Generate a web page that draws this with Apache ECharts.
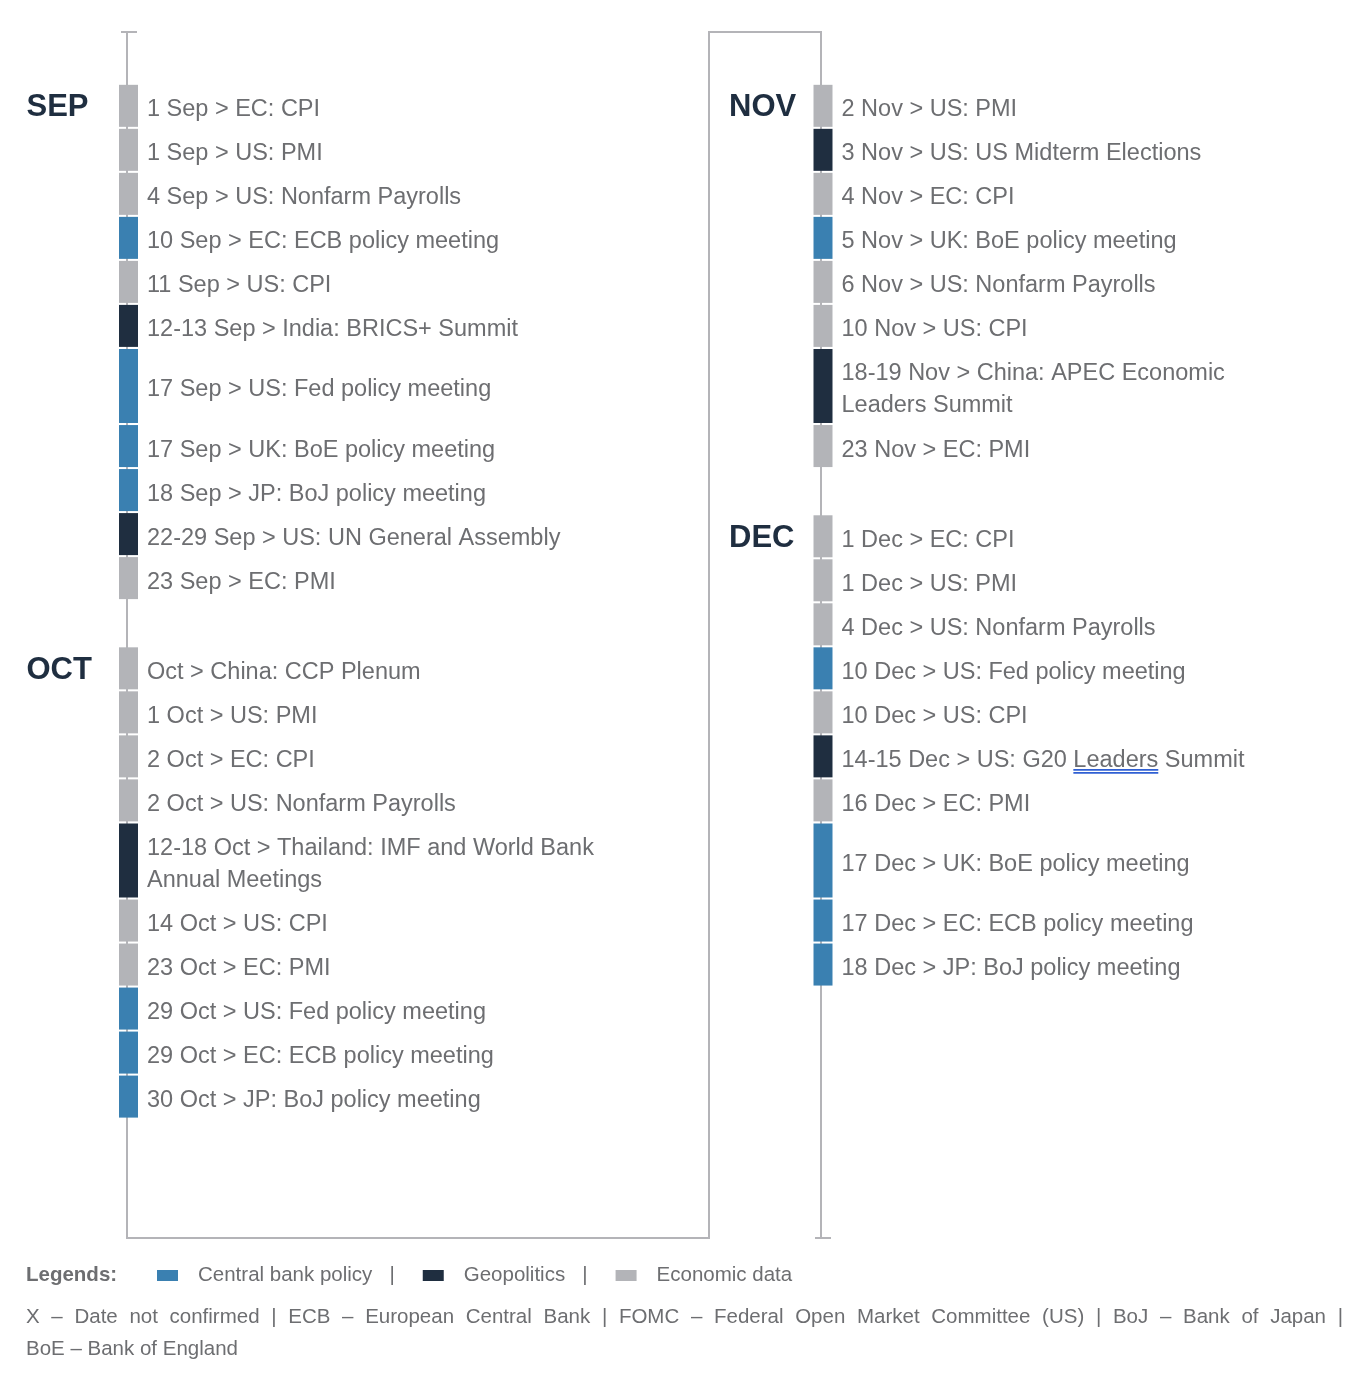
<!DOCTYPE html>
<html>
<head>
<meta charset="utf-8">
<script src="https://cdn.jsdelivr.net/npm/echarts@6/dist/echarts.min.js"></script>
<style>
  html, body { margin: 0; padding: 0; background: #fff; }
  #chart { width: 1364px; height: 1388px; }
</style>
</head>
<body>
<div id="chart"></div>
<script>
// ---------- data ----------
const months = ['SEP', 'OCT', 'NOV', 'DEC']
const monthColumn = [0, 0, 1, 1]   // 0 = left column, 1 = right column

const sepEvents = [
  '1 Sep > EC: CPI', '1 Sep > US: PMI', '4 Sep > US: Nonfarm Payrolls',
  '10 Sep > EC: ECB policy meeting', '11 Sep > US: CPI', '12-13 Sep > India: BRICS+ Summit',
  '17 Sep > US: Fed policy meeting', '17 Sep > UK: BoE policy meeting',
  '18 Sep > JP: BoJ policy meeting', '22-29 Sep > US: UN General Assembly', '23 Sep > EC: PMI'
]
const sepTypes = ['eco', 'eco', 'eco', 'cb', 'eco', 'geo', 'cb', 'cb', 'cb', 'geo', 'eco']

const octEvents = [
  'Oct > China: CCP Plenum', '1 Oct > US: PMI', '2 Oct > EC: CPI', '2 Oct > US: Nonfarm Payrolls',
  '12-18 Oct > Thailand: IMF and World Bank\nAnnual Meetings', '14 Oct > US: CPI', '23 Oct > EC: PMI',
  '29 Oct > US: Fed policy meeting', '29 Oct > EC: ECB policy meeting', '30 Oct > JP: BoJ policy meeting'
]
const octTypes = ['eco', 'eco', 'eco', 'eco', 'geo', 'eco', 'eco', 'cb', 'cb', 'cb']

const novEvents = [
  '2 Nov > US: PMI', '3 Nov > US: US Midterm Elections', '4 Nov > EC: CPI',
  '5 Nov > UK: BoE policy meeting', '6 Nov > US: Nonfarm Payrolls', '10 Nov > US: CPI',
  '18-19 Nov > China: APEC Economic\nLeaders Summit', '23 Nov > EC: PMI'
]
const novTypes = ['eco', 'geo', 'eco', 'cb', 'eco', 'eco', 'geo', 'eco']

const decEvents = [
  '1 Dec > EC: CPI', '1 Dec > US: PMI', '4 Dec > US: Nonfarm Payrolls',
  '10 Dec > US: Fed policy meeting', '10 Dec > US: CPI', '14-15 Dec > US: G20 Leaders Summit',
  '16 Dec > EC: PMI', '17 Dec > UK: BoE policy meeting', '17 Dec > EC: ECB policy meeting',
  '18 Dec > JP: BoJ policy meeting'
]
const decTypes = ['eco', 'eco', 'eco', 'cb', 'eco', 'geo', 'eco', 'cb', 'cb', 'cb']

const legendNames = ['Central bank policy', 'Geopolitics', 'Economic data']
const legendTypes = ['cb', 'geo', 'eco']
const notesLine1 = 'X – Date not confirmed | ECB – European Central Bank | FOMC – Federal Open Market Committee (US) | BoJ – Bank of Japan |'
const notesLine2 = 'BoE – Bank of England'

// rows drawn taller than one slot
const tallRows = [
  '17 Sep > US: Fed policy meeting',
  '12-18 Oct > Thailand: IMF and World Bank\nAnnual Meetings',
  '18-19 Nov > China: APEC Economic\nLeaders Summit',
  '17 Dec > UK: BoE policy meeting'
]

// ---------- styles / layout ----------
const typeColor = { cb: '#3a80b1', geo: '#1f2e40', eco: '#b3b4b8' }
const FONT = '"Liberation Sans", Arial, Helvetica, sans-serif'
const textColor = '#6d6e71'
const lineColor = '#b4b4b8'
const TALL = 1.73
const GAP = 1.05
const BAR_W = 19
const monthOffset = [-102, -94]
const BOX_OFFSET = 112

// build row list from the month arrays
const monthEvents = [sepEvents, octEvents, novEvents, decEvents]
const monthTypes = [sepTypes, octTypes, novTypes, decTypes]
const rows = []
const monthRows = []
const cursor = [0, 0]
months.forEach((m, i) => {
  const col = monthColumn[i]
  if (cursor[col] > 0) cursor[col] += GAP
  monthRows.push({ value: [col, cursor[col]], name: m })
  monthEvents[i].forEach((text, j) => {
    const span = tallRows.includes(text) ? TALL : 1
    rows.push({ value: [col, cursor[col], cursor[col] + span], text, type: monthTypes[i][j] })
    cursor[col] += span
  })
})

const measureCtx = document.createElement('canvas').getContext('2d')
function textWidth(s, font) {
  measureCtx.font = font
  return measureCtx.measureText(s).width
}

const chart = echarts.init(document.getElementById('chart'), null, { renderer: 'canvas' })

function renderEvent(params, api) {
  const r = rows[params.dataIndex]
  const p0 = api.coord([api.value(0), api.value(1)])
  const p1 = api.coord([api.value(0), api.value(2)])
  const h = p1[1] - p0[1] - 2
  const tx = p0[0] + BAR_W / 2 + 9
  const ty = p0[1] + h / 2 + 4
  const font = '23.5px ' + FONT
  const children = [
    { type: 'rect', shape: { x: p0[0] - BAR_W / 2, y: p0[1], width: BAR_W, height: h }, style: { fill: typeColor[r.type] } },
    { type: 'text', x: tx, y: ty, style: { text: r.text, font, fill: textColor, align: 'left', verticalAlign: 'middle', lineHeight: 32 } }
  ]
  // spell-check style double underline seen under "Leaders"
  if (r.text.indexOf('G20 Leaders') >= 0) {
    const pre = r.text.slice(0, r.text.indexOf('Leaders'))
    const x0 = tx + textWidth(pre, font)
    const x1 = x0 + textWidth('Leaders', font)
    ;[9.5, 12.5].forEach(dy => children.push({
      type: 'line', shape: { x1: x0, y1: ty + dy, x2: x1, y2: ty + dy }, style: { stroke: '#2f5fd3', lineWidth: 1.6 }
    }))
  }
  return { type: 'group', children }
}

function renderMonth(params, api) {
  const m = monthRows[params.dataIndex]
  const p = api.coord([api.value(0), api.value(1) + 0.5])
  return {
    type: 'text', x: p[0] + monthOffset[m.value[0]], y: p[1] + 1,
    style: { text: m.name, font: 'bold 31px ' + FONT, fill: '#1f2e40', align: 'left', verticalAlign: 'middle' }
  }
}

function renderConnector(params, api) {
  const top = api.coord([0, -1.2])[1]
  const bottom = api.coord([0, 26.2])[1]
  const lx = api.coord([0, 0])[0] - 1.5
  const rx = api.coord([1, 0])[0] - 2
  const mx = rx - BOX_OFFSET
  const style = { stroke: lineColor, lineWidth: 2, fill: null }
  return {
    type: 'group', children: [
      { type: 'polyline', shape: { points: [[lx, top], [lx, bottom], [mx, bottom], [mx, top], [rx, top], [rx, bottom]] }, style },
      { type: 'line', shape: { x1: lx - 6, y1: top, x2: lx + 10, y2: top }, style },
      { type: 'line', shape: { x1: rx - 6, y1: bottom, x2: rx + 10, y2: bottom }, style }
    ]
  }
}

// justified first notes line, like the source text box
function notesGraphic() {
  const font = '20.5px ' + FONT
  const words = notesLine1.split(' ')
  const left = 26, right = 1343
  const total = words.reduce((s, w) => s + textWidth(w, font), 0)
  const space = (right - left - total) / (words.length - 1)
  const out = []
  let x = left
  words.forEach(w => {
    out.push({ type: 'text', x, y: 1317, style: { text: w, font, fill: textColor, verticalAlign: 'middle' } })
    x += textWidth(w, font) + space
  })
  out.push({ type: 'text', x: left, y: 1349, style: { text: notesLine2, font, fill: textColor, verticalAlign: 'middle' } })
  out.push({ type: 'text', x: left, y: 1275, style: { text: 'Legends:', font: 'bold 20.5px ' + FONT, fill: textColor, verticalAlign: 'middle' } })
  return out
}

const legendSeries = legendNames.map((name, i) => ({
  name, type: 'bar', data: [], itemStyle: { color: typeColor[legendTypes[i]] }
}))

chart.setOption({
  animation: false,
  backgroundColor: '#fff',
  grid: { left: 128.5, top: 32, width: 694.5, height: 1206 },
  xAxis: { type: 'value', min: 0, max: 1, show: false },
  yAxis: { type: 'value', min: -1.2, max: 26.2, inverse: true, show: false },
  legend: {
    left: 152, top: 1260, icon: 'rect', itemWidth: 21, itemHeight: 11, itemGap: 28,
    selectedMode: false,
    data: legendNames,
    formatter: name => name === legendNames[legendNames.length - 1] ? name : name + '   |',
    textStyle: { fontFamily: FONT, fontSize: 20.5, color: textColor, padding: [0, 0, 0, 15] }
  },
  graphic: notesGraphic(),
  series: [
    { type: 'custom', name: 'connector', renderItem: renderConnector, data: [[0, 0]], silent: true, z: 1 },
    { type: 'custom', name: 'events', renderItem: renderEvent, data: rows.map(r => r.value), z: 2 },
    { type: 'custom', name: 'months', renderItem: renderMonth, data: monthRows.map(m => m.value), z: 3 },
    ...legendSeries
  ]
})
</script>
</body>
</html>
